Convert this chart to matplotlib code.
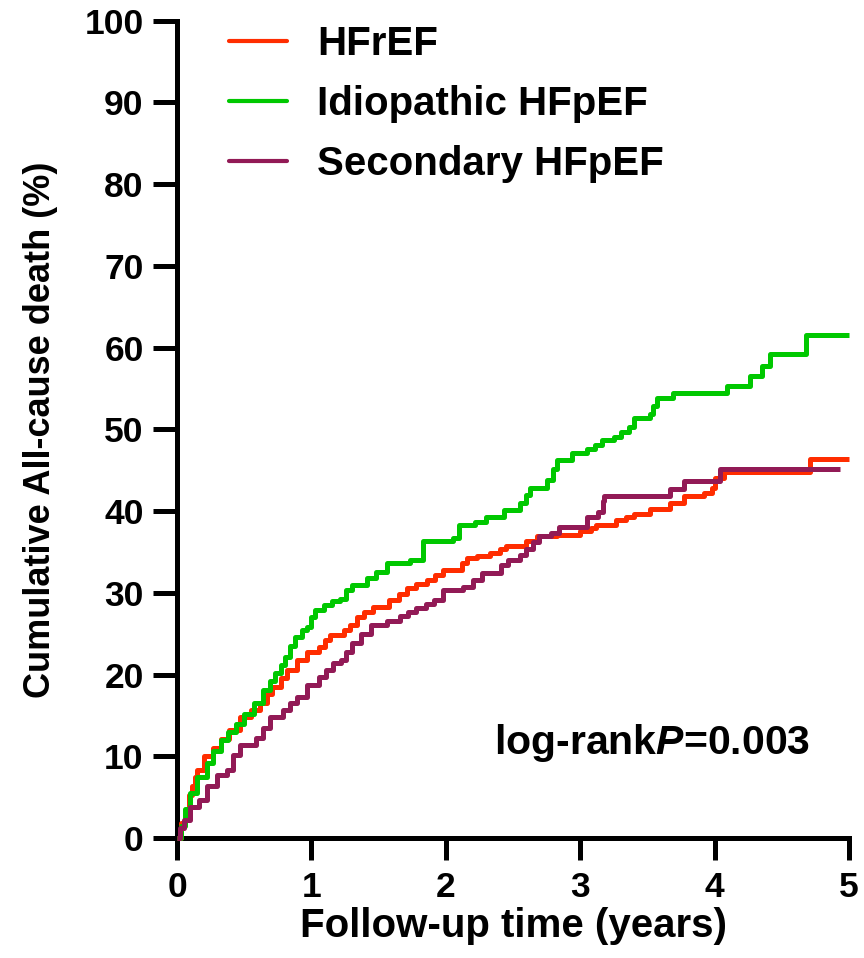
import matplotlib
matplotlib.use("Agg")
import matplotlib.pyplot as plt
from matplotlib.lines import Line2D

plt.rcParams['font.family'] = ['Liberation Sans', 'DejaVu Sans']
plt.rcParams['font.weight'] = 'bold'
plt.rcParams['mathtext.fontset'] = 'custom'
plt.rcParams['mathtext.it'] = 'Liberation Sans:italic:bold'
plt.rcParams['mathtext.rm'] = 'Liberation Sans:bold'

# group names / colours
groups = ["HFrEF", "Idiopathic HFpEF", "Secondary HFpEF"]
colors = ["#FF2D00", "#00C800", "#921A56"]

# KM step points (years, cumulative %)
t_hfref = [0, 0.03, 0.06, 0.09, 0.11, 0.13, 0.15, 0.2, 0.27, 0.33, 0.39, 0.47, 0.55, 0.62,
           0.67, 0.71, 0.77, 0.82, 0.89, 0.965, 1.06, 1.10, 1.14, 1.24, 1.29, 1.34, 1.39,
           1.46, 1.58, 1.65, 1.71, 1.78, 1.86, 1.92, 1.98, 2.12, 2.16, 2.23, 2.33, 2.40,
           2.45, 2.6, 2.68, 2.83, 3.0, 3.08, 3.12, 3.27, 3.34, 3.4, 3.52, 3.67, 3.77, 3.92,
           3.98, 4.0, 4.07, 4.71, 5.0]
v_hfref = [0, 1.8, 3.4, 5.2, 6.3, 7.4, 8.3, 10, 11, 12.1, 13.2, 14.8, 15.6, 16.5,
           17.6, 18.5, 19.6, 20.6, 21.8, 22.8, 23.4, 24.2, 24.8, 25.5, 26.1, 27, 27.7,
           28.2, 29.1, 29.9, 30.6, 31.1, 31.6, 32.2, 32.8, 33.6, 34.2, 34.5, 34.9, 35.3,
           35.7, 36.3, 36.9, 37.1, 37.5, 37.9, 38.3, 38.9, 39.3, 39.7, 40.3, 41, 41.8, 42.2,
           42.8, 44, 44.8, 46.4, 46.4]

t_idio = [0, 0.03, 0.06, 0.1, 0.15, 0.22, 0.27, 0.33, 0.38, 0.44, 0.5, 0.57, 0.64, 0.69,
          0.73, 0.77, 0.80, 0.84, 0.88, 0.93, 0.965, 1.0, 1.03, 1.09, 1.15, 1.21, 1.26,
          1.30, 1.41, 1.48, 1.56, 1.73, 1.83, 2.05, 2.1, 2.22, 2.30, 2.43, 2.55, 2.60,
          2.63, 2.75, 2.80, 2.83, 2.94, 3.05, 3.11, 3.16, 3.25, 3.30, 3.36, 3.40, 3.52,
          3.54, 3.57, 3.69, 4.09, 4.26, 4.35, 4.41, 4.68, 5.0]
v_idio = [0, 1.5, 3.5, 5.5, 7.5, 9.2, 10.6, 12, 13, 14, 15.2, 16.5, 18.1, 19.2,
          20.2, 21.2, 22.2, 23.5, 24.6, 25.4, 25.8, 27, 27.9, 28.5, 29.0, 29.3, 30.3,
          31, 31.8, 32.6, 33.6, 34, 36.3, 36.7, 38.3, 38.6, 39.3, 40.1, 41, 42,
          42.8, 43.8, 45.2, 46.2, 47.1, 47.6, 48.1, 48.7, 49.1, 49.7, 50.3, 51.4, 51.9,
          52.8, 53.8, 54.4, 55.3, 56.5, 57.8, 59.2, 61.5, 61.5]

t_sec = [0, 0.02, 0.05, 0.1, 0.16, 0.22, 0.3, 0.37, 0.42, 0.47, 0.59, 0.64, 0.69, 0.79,
         0.84, 0.89, 0.965, 1.06, 1.11, 1.16, 1.22, 1.26, 1.3, 1.37, 1.44, 1.56, 1.66,
         1.72, 1.78, 1.85, 1.91, 1.98, 2.13, 2.2, 2.27, 2.41, 2.46, 2.55, 2.6, 2.65,
         2.69, 2.78, 2.84, 3.05, 3.13, 3.17, 3.18, 3.67, 3.77, 4.04, 4.93]
v_sec = [0, 1.2, 2.2, 3.8, 4.6, 6.3, 7.7, 8.3, 10.2, 11.4, 12.2, 13.5, 14.8, 15.7,
         16.5, 17.3, 18.7, 19.7, 20.6, 21.4, 21.8, 22.8, 23.8, 25, 26.1, 26.5, 27.1,
         27.6, 28.1, 28.6, 29.1, 30.4, 30.7, 31.6, 32.4, 33.4, 34, 34.6, 35.4, 36.2,
         36.9, 37.3, 38, 39.3, 39.9, 41.2, 41.8, 42.7, 43.7, 45.2, 45.2]

x_ticks = [0, 1, 2, 3, 4, 5]
y_ticks = list(range(0, 101, 10))

fig = plt.figure(figsize=(8.64, 9.58), dpi=100)
ax = fig.add_axes([0.2049, 0.1253, 0.7777, 0.8531])

series = [(t_hfref, v_hfref), (t_idio, v_idio), (t_sec, v_sec)]
for (t, v), c in zip(series, colors):
    ax.step(t, v, where='post', color=c, lw=3.6, clip_on=False, zorder=3,
            solid_capstyle='butt')

ax.set_xlim(0, 5)
ax.set_ylim(0, 100)
ax.set_xticks(x_ticks)
ax.set_yticks(y_ticks)
ax.tick_params(axis='both', width=3.6, direction='out', labelsize=25.5)
ax.tick_params(axis='y', length=17, pad=7)
ax.tick_params(axis='x', length=16, pad=8)
for s in ['top', 'right']:
    ax.spines[s].set_visible(False)
for s in ['left', 'bottom']:
    ax.spines[s].set_linewidth(3.6)

ax.set_xlabel("Follow-up time (years)", fontsize=29, fontweight='bold', labelpad=2)
ax.set_ylabel("Cumulative All-cause death (%)", fontsize=26, fontweight='bold', labelpad=19)

handles = [Line2D([], [], color=c, lw=3, solid_capstyle='round') for c in colors]
ax.legend(handles, groups, loc='upper left', bbox_to_anchor=(0.077, 0.995), frameon=False,
          fontsize=29, handlelength=1.45, handletextpad=0.75, labelspacing=0.55,
          borderpad=0, borderaxespad=0)

ax.text(2.36, 11.6, r'log-rank$P$=0.003', fontsize=29.5, fontweight='bold', va='center')

fig.savefig("out.png", dpi=100)
